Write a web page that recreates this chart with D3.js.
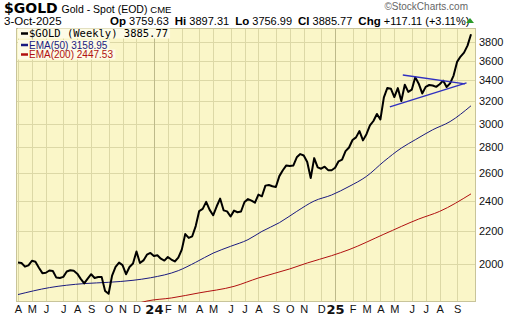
<!DOCTYPE html>
<html>
<head>
<meta charset="utf-8">
<script src="https://cdn.jsdelivr.net/npm/d3@7"></script>
<style>
  body { margin: 0; background: #fff; }
</style>
</head>
<body>
<div id="chart"></div>
<script>
const width = 520;
const height = 318;
const margin = { top: 28, right: 44, bottom: 16, left: 16 };
const sans = '"Liberation Sans", Arial, sans-serif';
const verdana = '"DejaVu Sans", Verdana, sans-serif';

// weekly closes, first bar 7-Apr-2023, last bar 3-Oct-2025
const firstWeek = '2023-04-07';
const closes = [
  2007, 2004, 1983, 1990, 2017, 2011, 1977, 1946, 1948, 1961, 1958, 1921, 1919,
  1925, 1955, 1962, 1959, 1943, 1914, 1889, 1915, 1940, 1919, 1924, 1925, 1848,
  1833, 1932, 1981, 2006, 1992, 1940, 1981, 2001, 2072, 2004, 2019, 2053, 2063,
  2045, 2049, 2029, 2018, 2039, 2024, 2013, 2035, 2083, 2179, 2155, 2165, 2230,
  2329, 2344, 2392, 2337, 2301, 2360, 2415, 2334, 2327, 2293, 2332, 2321, 2326,
  2391, 2411, 2400, 2386, 2443, 2431, 2507, 2512, 2503, 2497, 2577, 2621, 2658,
  2653, 2657, 2721, 2747, 2736, 2685, 2563, 2715, 2643, 2633, 2648, 2622, 2621,
  2640, 2690, 2703, 2770, 2800, 2861, 2883, 2936, 2858, 2910, 2984, 3023, 3085,
  3037, 3237, 3327, 3319, 3240, 3325, 3203, 3357, 3289, 3310, 3432, 3368, 3274,
  3337, 3355, 3350, 3337, 3363, 3398, 3336, 3371, 3448, 3587, 3643, 3685, 3760, 3886
];

// moving averages
const ema50Dates = ['2023-04-07', '2023-06-09', '2023-08-18', '2023-10-06', '2023-11-24', '2023-12-29',
  '2024-02-23', '2024-03-29', '2024-05-03', '2024-06-07', '2024-07-12', '2024-08-09', '2024-09-13',
  '2024-10-18', '2024-11-22', '2024-12-27', '2025-01-31', '2025-03-07', '2025-04-11', '2025-05-16',
  '2025-06-13', '2025-07-18', '2025-08-22', '2025-10-03'];
const ema50Values = [1829, 1866, 1888, 1895, 1906, 1920, 1960, 2008, 2062, 2103, 2144, 2196, 2252,
  2327, 2398, 2440, 2501, 2575, 2689, 2795, 2863, 2947, 3018, 3159];

const ema200Dates = ['2023-12-08', '2023-12-22', '2024-02-09', '2024-04-05', '2024-06-14', '2024-08-02',
  '2024-10-04', '2024-11-08', '2024-12-27', '2025-01-31', '2025-04-11', '2025-06-20', '2025-08-01', '2025-10-03'];
const ema200Values = [1786, 1795, 1811, 1838, 1873, 1919, 1970, 2004, 2047, 2083, 2178, 2276, 2327, 2448];

// triangle trendlines drawn on the chart
const trendUpper = [['2025-05-19', 3454], ['2025-09-21', 3366]];
const trendLower = [['2025-04-23', 3149], ['2025-09-24', 3375]];

const priceTicks = [2000, 2200, 2400, 2600, 2800, 3000, 3200, 3400, 3600, 3800];
const monthLetters = ['J', 'F', 'M', 'A', 'M', 'J', 'J', 'A', 'S', 'O', 'N', 'D'];

const quoteFields = [['Op', '3759.63'], ['Hi', '3897.31'], ['Lo', '3756.99'], ['Cl', '3885.77'], ['Chg', '+117.11 (+3.11%)']];

const legendItems = [
  { label: '$GOLD (Weekly) 3885.77', color: '#000', mono: true },
  { label: 'EMA(50) 3158.95', color: '#1a1a80', mono: false },
  { label: 'EMA(200) 2447.53', color: '#b01010', mono: false }
];

const parse = d3.timeParse('%Y-%m-%d');
const start = parse(firstWeek);
const bars = closes.map((c, i) => ({ date: d3.timeDay.offset(start, 7 * i), close: c }));
const ema50 = ema50Dates.map((d, i) => ({ date: parse(d), v: ema50Values[i] }));
const ema200 = ema200Dates.map((d, i) => ({ date: parse(d), v: ema200Values[i] }));

const plotL = margin.left, plotR = width - margin.right;
const plotT = margin.top, plotB = height - margin.bottom;

const x = d3.scaleTime()
  .domain([bars[0].date, bars[bars.length - 1].date])
  .range([plotL + 2, plotR - 5]);
const y = d3.scaleLog()
  .domain([1790, 3957])
  .range([plotB, plotT]);

const svg = d3.select('#chart').append('svg')
  .attr('width', width)
  .attr('height', height)
  .attr('font-family', sans);

// header
const head = svg.append('g');
const t1 = head.append('text').attr('x', 4).attr('y', 13);
t1.append('tspan').text('$GOLD')
  .attr('font-family', verdana)
  .attr('font-weight', 'bold').attr('font-size', 14);
t1.append('tspan').text(' Gold - Spot (EOD) ').attr('font-size', 10.5).attr('dx', 1);
t1.append('tspan').text('CME').attr('font-size', 9.5);

head.append('text').attr('x', 4).attr('y', 24.5).attr('font-size', 11.5).text('3-Oct-2025');
const quote = head.append('text').attr('x', 110).attr('y', 24.5).attr('font-size', 11);
quoteFields.forEach((q, i) => {
  quote.append('tspan').text(q[0]).attr('font-weight', 'bold').attr('font-size', 11.5)
    .attr('dx', i ? 6 : 0);
  quote.append('tspan').text(' ' + q[1]);
});
head.append('path')
  .attr('d', 'M466,23 L474,23 L470,18 Z')
  .attr('fill', '#2a9a2a');
head.append('text').attr('x', 468).attr('y', 10).attr('text-anchor', 'end')
  .attr('font-size', 10).attr('fill', '#666')
  .text('\u00a9StockCharts.com');

// plot background
svg.append('rect')
  .attr('x', plotL).attr('y', plotT)
  .attr('width', plotR - plotL).attr('height', plotB - plotT)
  .attr('fill', '#faf6c8');

// month boundaries: first weekly bar of each month
const months = d3.timeMonths(d3.timeMonth.floor(bars[0].date), d3.timeMonth.ceil(bars[bars.length - 1].date))
  .map(m => bars.find(b => b.date >= m))
  .filter(b => b && b !== bars[bars.length - 1]);
const monthTicks = months.map(b => b.date);

const grid = svg.append('g');
grid.selectAll('line.h').data(priceTicks).join('line')
  .attr('class', 'h')
  .attr('x1', plotL).attr('x2', plotR)
  .attr('y1', d => Math.round(y(d)) + 0.5).attr('y2', d => Math.round(y(d)) + 0.5)
  .attr('stroke', '#dcd8a6');
grid.selectAll('line.v').data(monthTicks).join('line')
  .attr('class', 'v')
  .attr('y1', plotT).attr('y2', plotB)
  .attr('x1', d => Math.round(x(d)) + 0.5).attr('x2', d => Math.round(x(d)) + 0.5)
  .attr('stroke', d => d.getMonth() === 0 ? '#bdb98a' : '#dcd8a6');

svg.append('rect')
  .attr('x', plotL + 0.5).attr('y', plotT + 0.5)
  .attr('width', plotR - plotL - 1).attr('height', plotB - plotT - 1)
  .attr('fill', 'none').attr('stroke', '#c8c49a');

// axes
const yAxis = d3.axisRight(y).tickValues(priceTicks).tickSize(0).tickPadding(3)
  .tickFormat(d3.format('d'));
svg.append('g')
  .attr('transform', `translate(${plotR},0)`)
  .call(yAxis)
  .call(g => g.select('.domain').remove())
  .selectAll('text').attr('font-size', 11).attr('font-family', sans)
  .attr('fill', '#111');

const xAxis = d3.axisBottom(x).tickValues(monthTicks).tickSize(0).tickPadding(3)
  .tickFormat(d => d.getMonth() === 0 ? d3.timeFormat('%y')(d) : monthLetters[d.getMonth()]);
svg.append('g')
  .attr('transform', `translate(0,${plotB})`)
  .call(xAxis)
  .call(g => g.select('.domain').remove())
  .selectAll('text')
  .attr('font-size', d => d.getMonth() === 0 ? 13 : 11)
  .attr('font-weight', d => d.getMonth() === 0 ? 'bold' : 'normal')
  .attr('font-family', d => d.getMonth() === 0 ? verdana : sans)
  .attr('fill', '#111');

// series
svg.append('clipPath').attr('id', 'plot-clip')
  .append('rect').attr('x', plotL).attr('y', plotT)
  .attr('width', plotR - plotL).attr('height', plotB - plotT);
const series = svg.append('g').attr('clip-path', 'url(#plot-clip)');

const emaLine = d3.line().x(d => x(d.date)).y(d => y(d.v)).curve(d3.curveMonotoneX);
series.append('path').attr('d', emaLine(ema200))
  .attr('fill', 'none').attr('stroke', '#b01010').attr('stroke-width', 1);
series.append('path').attr('d', emaLine(ema50))
  .attr('fill', 'none').attr('stroke', '#1a1a80').attr('stroke-width', 1);

const priceLine = d3.line().x(d => x(d.date)).y(d => y(d.close));
series.append('path').attr('d', priceLine(bars))
  .attr('fill', 'none').attr('stroke', '#000').attr('stroke-width', 2)
  .attr('stroke-linejoin', 'round');

[trendUpper, trendLower].forEach(t => {
  series.append('path')
    .attr('d', d3.line().x(d => x(parse(d[0]))).y(d => y(d[1]))(t))
    .attr('fill', 'none').attr('stroke', '#3030c0').attr('stroke-width', 1.4);
});

// legend
const legend = svg.append('g');
const legendRows = [37, 48.5, 58];
legendItems.forEach((item, i) => {
  const ly = legendRows[i];
  const label = legend.append('text')
    .attr('x', plotL + 13).attr('y', ly)
    .attr('font-size', item.mono ? 10.5 : 10)
    .attr('font-family', item.mono ? '"DejaVu Sans Mono", monospace' : sans)
    .attr('fill', item.color)
    .text(item.label);
  const bb = label.node().getBBox();
  legend.insert('rect', 'text')
    .attr('x', plotL + 2).attr('y', ly - 8.5)
    .attr('width', bb.x + bb.width - plotL).attr('height', 10)
    .attr('fill', '#fdfbe6');
  legend.append('line')
    .attr('x1', plotL + 5).attr('x2', plotL + 12)
    .attr('y1', ly - 3.5).attr('y2', ly - 3.5)
    .attr('stroke', item.color).attr('stroke-width', 2.5);
});
</script>
</body>
</html>
